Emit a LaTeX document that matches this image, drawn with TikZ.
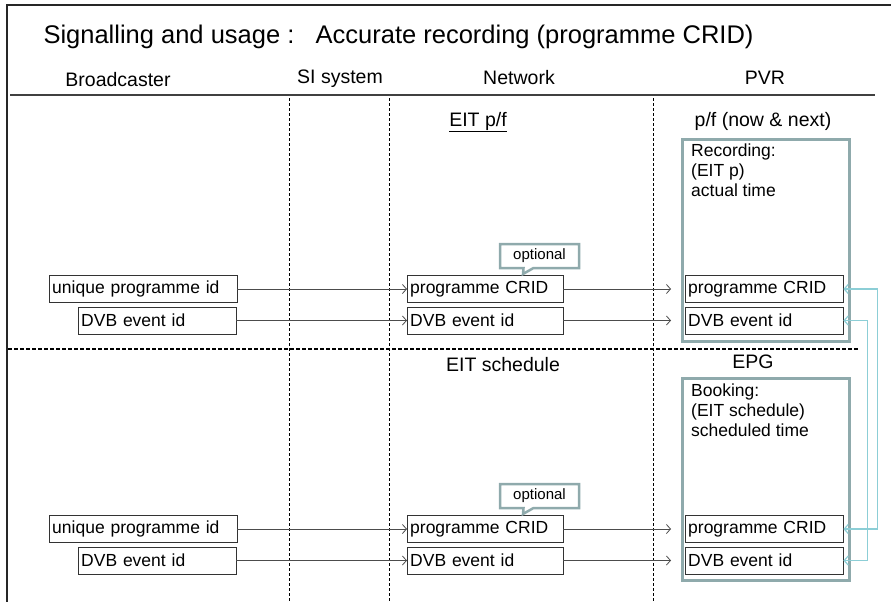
\documentclass[tikz,border=0pt]{standalone}
\usepackage{fontspec}
\setmainfont{Liberation Sans}
\usetikzlibrary{shapes.callouts,arrows.meta}
\definecolor{frameteal}{RGB}{143,170,172}
\definecolor{linkcyan}{RGB}{140,206,214}

\begin{document}
\begin{tikzpicture}[x=1pt,y=-1pt,
    idbox/.style={draw=black!80, anchor=west, inner xsep=3pt, inner ysep=0pt, minimum height=27pt, text width=#1, align=left, font=\fontsize{17.5}{20}\selectfont},
    pvrbox/.style={draw=frameteal, line width=3pt, anchor=north west, minimum width=167pt, minimum height=202pt, inner sep=0pt},
    pvrtext/.style={anchor=north west, align=left, inner sep=0pt, font=\fontsize{17.5}{20}\selectfont},
    flow/.style={-{Straight Barb[length=4pt,width=9pt]}, draw=black!70, line width=0.8pt},
    link/.style={{Straight Barb[length=4pt,width=9pt]}-{Straight Barb[length=4pt,width=9pt]}, draw=linkcyan, line width=1.2pt},
    lane/.style={densely dashed, line width=0.5pt},
    head/.style={font=\fontsize{19.5}{22}\selectfont},
    note/.style={rectangle callout, draw=frameteal, line width=2.5pt, fill=white, minimum width=79pt, minimum height=24pt, inner sep=0pt, callout pointer width=10pt, font=\fontsize{15}{17}\selectfont}]
  \useasboundingbox (0,0) rectangle (891,602);

  % frame and lanes
  \draw[line width=1.5pt, black!85] (7,602) -- (7,5) -- (891,5);
  \draw[line width=2pt, black!75] (10,95) -- (875,95);
  \foreach \x in {289,389,653}
    \draw[lane] (\x,98) -- (\x,602);
  \draw[line width=1.2pt, dash pattern=on 4pt off 2pt] (8,349) -- (858,349);

  % headings
  \node[anchor=west, font=\fontsize{25.5}{29}\selectfont] (title) at (40,37) {Signalling and usage :\ \ \ Accurate recording (programme CRID)};
  \node[head] (hdBroad) at (118,80) {Broadcaster};
  \node[head] (hdSI)    at (340,79) {SI system};
  \node[head] (hdNet)   at (519,78) {Network};
  \node[head] (hdPVR)   at (765,78) {PVR};
  \node[head] (eitPF)    at (478,122) {\underline{EIT p/f}};
  \node[head] (nowNext)  at (763,121) {p/f (now \& next)};
  \node[head] (eitSched) at (503,365) {EIT schedule};
  \node[head] (epg)      at (753,362) {EPG};

  % p/f part
  \node[pvrbox] (pvrA) at (681,138) {};
  \node[pvrtext] (recA) at (691,144) {Recording:\\(EIT p)\\actual time};
  \node[idbox=182pt] (bcA1) at (49,289)   {unique programme id};
  \node[idbox=152pt] (bcA2) at (78,320.5) {DVB event id};
  \node[idbox=150pt] (nwA1) at (407,289)   {programme CRID};
  \node[idbox=150pt] (nwA2) at (407,320.5) {DVB event id};
  \node[idbox=152pt] (pvA1) at (685,289)   {programme CRID};
  \node[idbox=152pt] (pvA2) at (685,320.5) {DVB event id};
  \node[note, callout absolute pointer={(523,274)}] (optA) at (539.5,256) {optional};

  % schedule part
  \node[pvrbox] (pvrB) at (681,377) {};
  \node[pvrtext] (recB) at (691,384) {Booking:\\(EIT schedule)\\scheduled time};
  \node[idbox=182pt] (bcB1) at (49,529)   {unique programme id};
  \node[idbox=152pt] (bcB2) at (78,560.5) {DVB event id};
  \node[idbox=150pt] (nwB1) at (407,529)   {programme CRID};
  \node[idbox=150pt] (nwB2) at (407,560.5) {DVB event id};
  \node[idbox=152pt] (pvB1) at (685,529)   {programme CRID};
  \node[idbox=152pt] (pvB2) at (685,560.5) {DVB event id};
  \node[note, callout absolute pointer={(523,514)}] (optB) at (539.5,496) {optional};

  % arrows
  \foreach \r in {A,B}{
    \draw[flow] (bc\r1.east) -- (nw\r1.west);
    \draw[flow] (bc\r2.east) -- (nw\r2.west);
    \draw[flow, shorten >=14pt] (nw\r1.east) -- (pv\r1.west);
    \draw[flow, shorten >=14pt] (nw\r2.east) -- (pv\r2.west);
  }
  \draw[link] (pvA1.east) -- ([xshift=34pt]pvA1.east) |- (pvB1.east);
  \draw[link] (pvA2.east) -- ([xshift=24pt]pvA2.east) |- (pvB2.east);
\end{tikzpicture}
\end{document}
